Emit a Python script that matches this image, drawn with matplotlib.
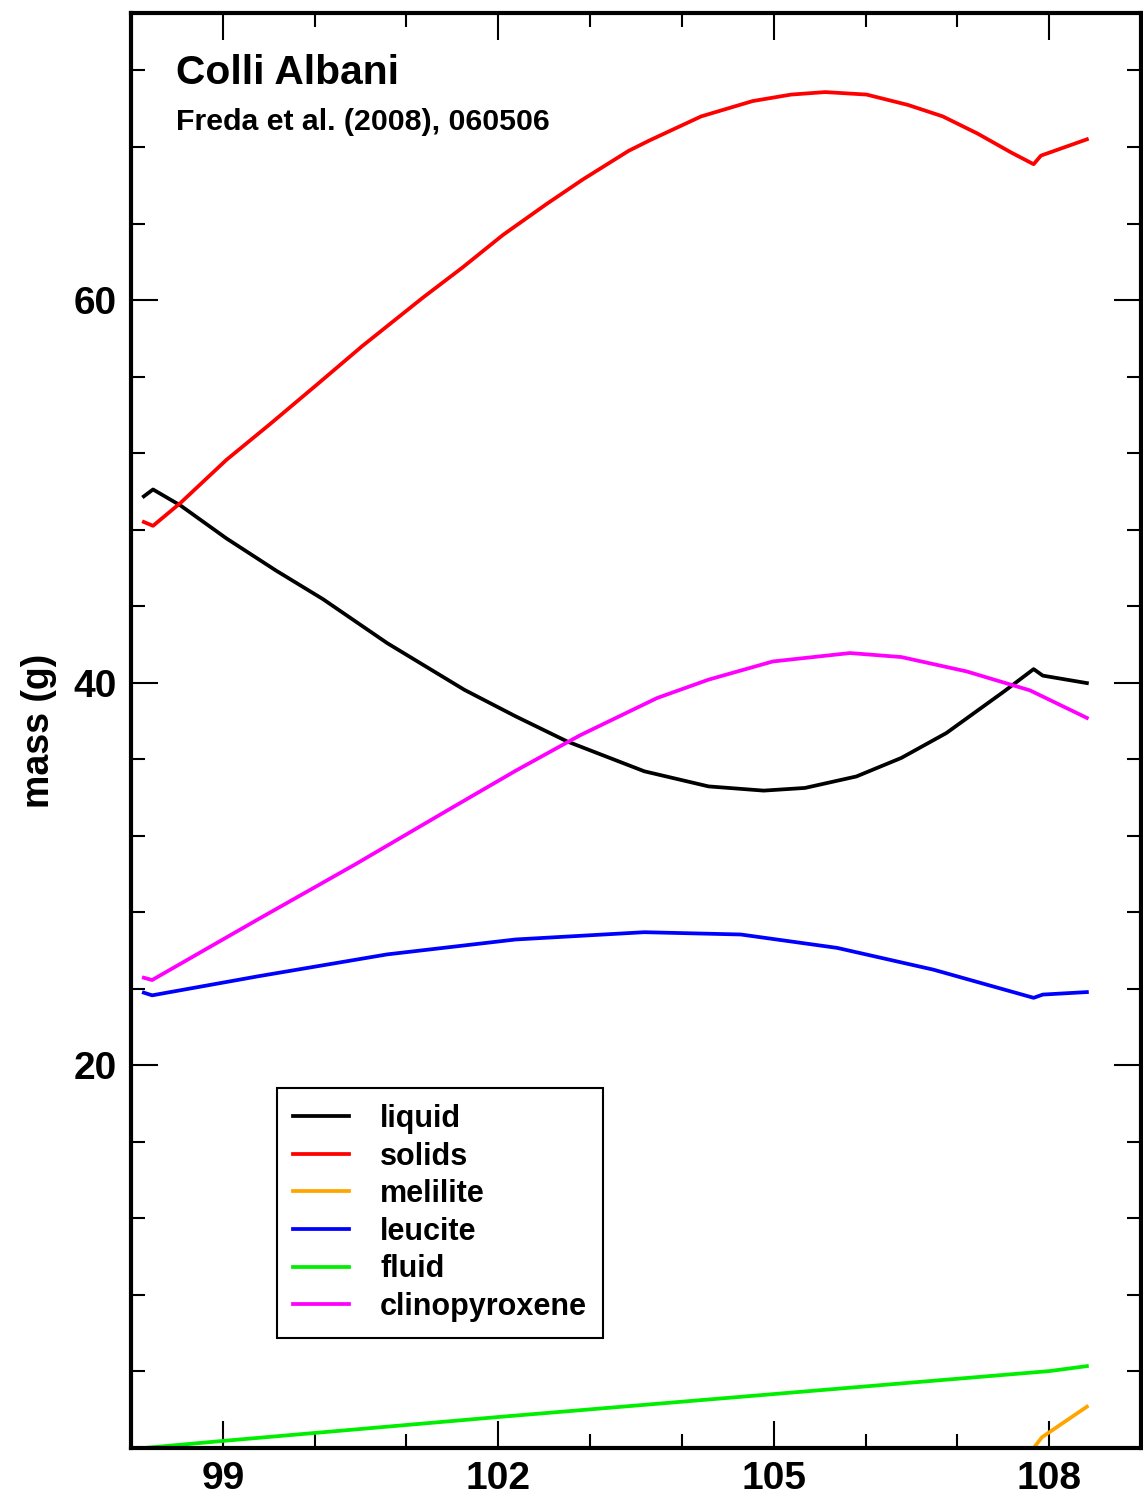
import matplotlib
matplotlib.use("Agg")
import matplotlib.pyplot as plt
from matplotlib.ticker import MultipleLocator

plt.rcParams['font.family'] = ['Liberation Sans', 'DejaVu Sans']
plt.rcParams['font.weight'] = 'bold'

# liquid mass
liquid_x = [98.14, 98.24, 98.54, 99.04, 99.58, 100.09, 100.79, 101.63, 102.19, 102.75,
            103.59, 104.29, 104.89, 105.34, 105.90, 106.39, 106.88, 107.51, 107.83, 107.93, 108.41]
liquid_y = [49.74, 50.10, 49.26, 47.54, 45.86, 44.37, 42.07, 39.63, 38.24, 36.93,
            35.37, 34.58, 34.36, 34.50, 35.10, 36.07, 37.37, 39.55, 40.71, 40.37, 39.98]

# total solids
solids_x = [98.14, 98.24, 98.54, 99.04, 99.51, 100.02, 100.52, 101.18, 101.61, 102.05,
            102.52, 102.92, 103.42, 103.65, 104.21, 104.77, 105.19, 105.56, 106.01, 106.46,
            106.84, 107.22, 107.59, 107.83, 107.91, 108.41]
solids_y = [48.40, 48.20, 49.40, 51.65, 53.50, 55.56, 57.60, 60.13, 61.70, 63.40,
            65.00, 66.30, 67.80, 68.35, 69.60, 70.40, 70.74, 70.87, 70.74, 70.20,
            69.60, 68.70, 67.70, 67.10, 67.55, 68.40]

# melilite
melilite_x = [98.14, 107.83, 107.92, 108.41]
melilite_y = [0.0, 0.0, 0.56, 2.16]

# leucite
leucite_x = [98.14, 98.23, 99.39, 100.79, 102.19, 103.59, 104.64, 105.69, 106.74,
             107.83, 107.93, 108.41]
leucite_y = [23.80, 23.66, 24.66, 25.80, 26.58, 26.96, 26.84, 26.14, 25.00,
             23.53, 23.70, 23.83]

# fluid
fluid_x = [98.14, 99.0, 102.0, 105.0, 108.0, 108.41]
fluid_y = [0.00, 0.37, 1.62, 2.82, 4.02, 4.28]

# clinopyroxene
cpx_x = [98.14, 98.23, 99.39, 100.44, 101.49, 102.19, 102.89, 103.73, 104.29, 104.99,
         105.83, 106.39, 107.10, 107.79, 108.41]
cpx_y = [24.58, 24.46, 27.65, 30.50, 33.45, 35.40, 37.25, 39.20, 40.16, 41.11,
         41.55, 41.34, 40.59, 39.60, 38.16]

series = [
    ("liquid", liquid_x, liquid_y, "black"),
    ("solids", solids_x, solids_y, "#ff0000"),
    ("melilite", melilite_x, melilite_y, "#ffa500"),
    ("leucite", leucite_x, leucite_y, "#0000ff"),
    ("fluid", fluid_x, fluid_y, "#00ee00"),
    ("clinopyroxene", cpx_x, cpx_y, "#ff00ff"),
]

x_ticks = [99, 102, 105, 108]
y_ticks = [20, 40, 60]

fig = plt.figure(figsize=(11.43, 15.01), dpi=100)
ax = fig.add_axes([0.1146, 0.0353, 0.8837, 0.956])

for name, xs, ys, col in series:
    ax.plot(xs, ys, color=col, lw=2.7, label=name)

ax.set_xlim(98, 109)
ax.set_ylim(0, 75)
ax.set_xticks(x_ticks)
ax.set_yticks(y_ticks)
ax.xaxis.set_minor_locator(MultipleLocator(1))
ax.yaxis.set_minor_locator(MultipleLocator(4))
ax.tick_params(which='both', direction='in', top=True, right=True, width=1.5,
               labelsize=28, color='black')
ax.tick_params(which='major', length=19.5)
ax.tick_params(which='minor', length=10)
ax.tick_params(axis='x', which='major', pad=9)
ax.tick_params(axis='y', which='major', pad=10)
for lab in ax.get_xticklabels() + ax.get_yticklabels():
    lab.set_fontweight('bold')
for sp in ax.spines.values():
    sp.set_linewidth(3)

ax.set_ylabel("mass (g)", fontsize=27, fontweight='bold', labelpad=12)

ax.text(0.0446, 0.9505, "Colli Albani", transform=ax.transAxes, fontsize=29.3,
        fontweight='bold', va='baseline', ha='left')
ax.text(0.0446, 0.9185, "Freda et al. (2008), 060506", transform=ax.transAxes,
        fontsize=21.8, fontweight='bold', va='baseline', ha='left')

leg = ax.legend(loc='upper left', bbox_to_anchor=(0.1446, 0.2509), fontsize=22,
                frameon=True, fancybox=False, edgecolor='black', framealpha=1,
                handlelength=1.85, handletextpad=1.0, borderpad=0.52,
                labelspacing=0.25, borderaxespad=0)
leg.get_frame().set_linewidth(1.5)
for t in leg.get_texts():
    t.set_fontweight('bold')

fig.savefig("out.png", dpi=100)
